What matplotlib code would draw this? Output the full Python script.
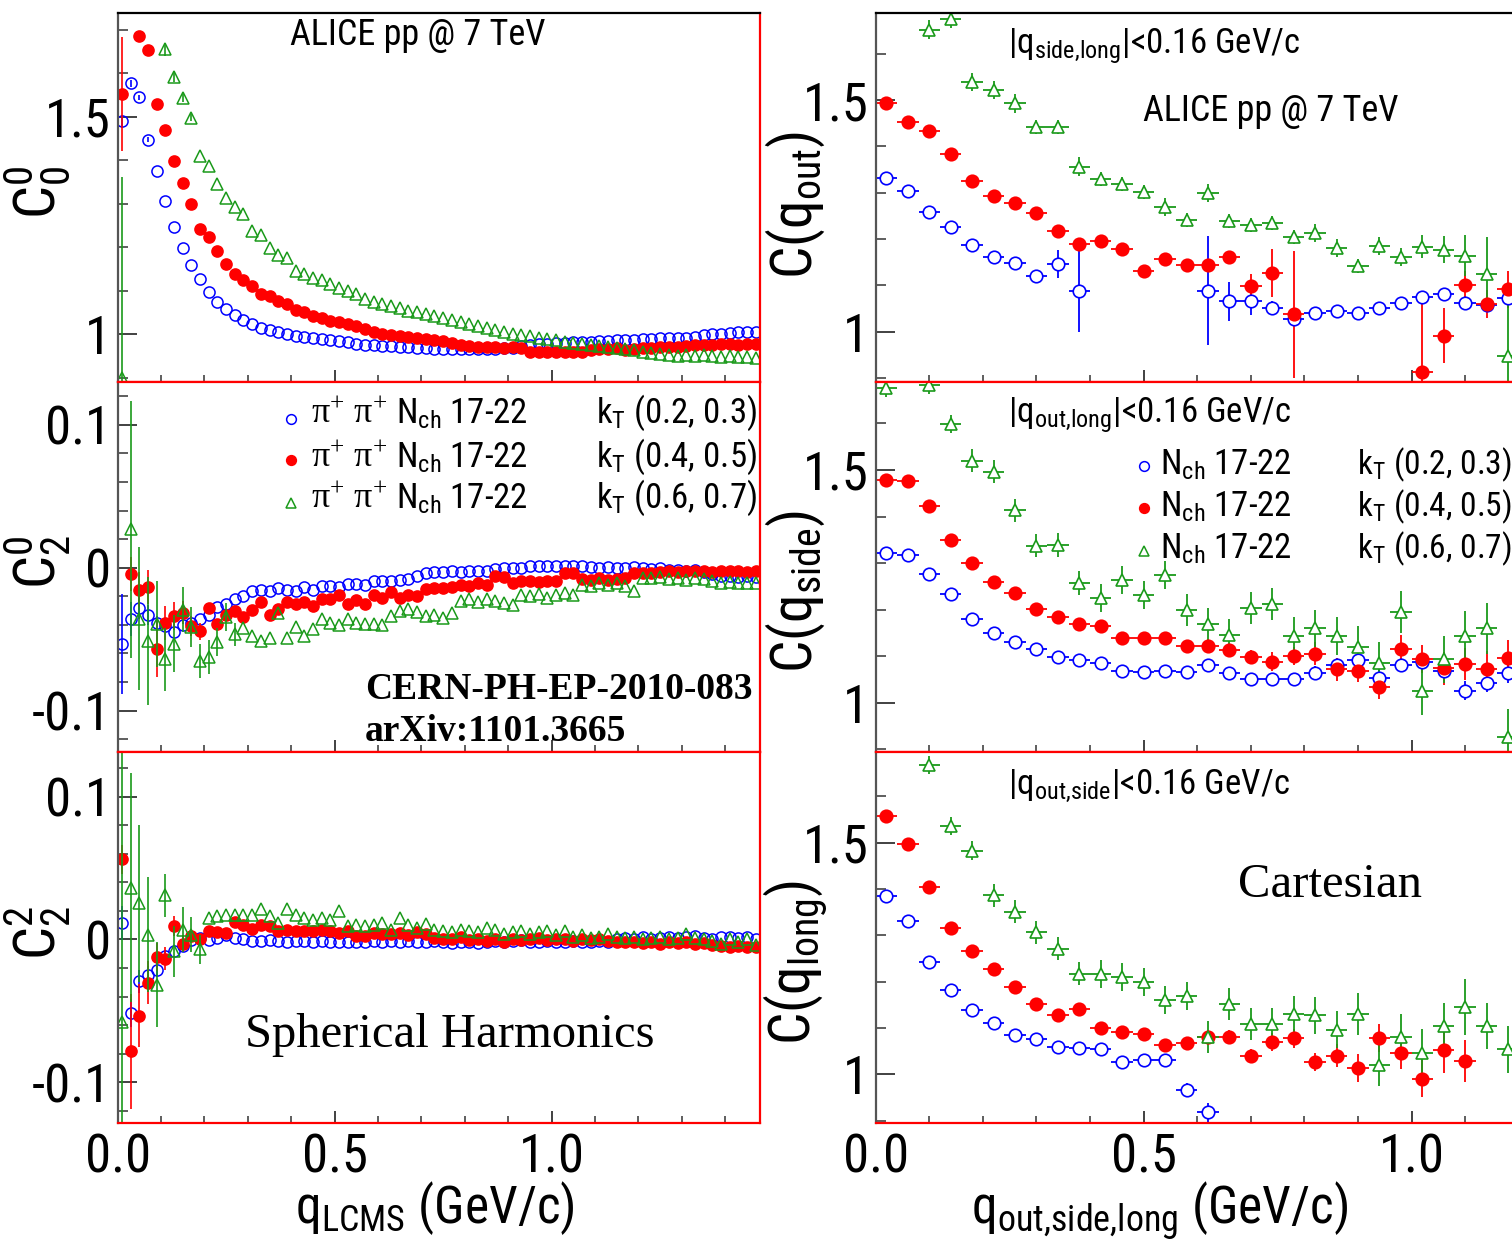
import numpy as np
import matplotlib
matplotlib.use('Agg')
import matplotlib.pyplot as plt
from matplotlib import font_manager
from matplotlib.ticker import MultipleLocator, FuncFormatter

nan = np.nan

# ---- spherical harmonics (left column), q_LCMS bins of 0.02 GeV/c ----
sh_bin = 0.02

c00_blue = [1.489, 1.577, 1.544, 1.447, 1.375, 1.306, 1.246, 1.197, 1.159, 1.126,
            1.097, 1.074, 1.057, 1.044, 1.033, 1.023, 1.015, 1.010, 1.005, 1.000,
            0.996, 0.993, 0.990, 0.989, 0.987, 0.984, 0.981, 0.978, 0.976, 0.974,
            0.973, 0.972, 0.971, 0.970, 0.968, 0.967, 0.966, 0.966, 0.965, 0.966,
            0.965, 0.966, 0.965, 0.966, 0.967, 0.968, 0.972, 0.975, 0.977, 0.978,
            0.979, 0.980, 0.981, 0.982, 0.983, 0.984, 0.985, 0.986, 0.986, 0.987,
            0.988, 0.989, 0.990, 0.991, 0.990, 0.992, 0.993, 0.998, 1.000, 1.000,
            1.003, 1.004, 1.005, 1.004]
c00_red = [1.552, nan, 1.684, 1.654, 1.529, 1.470, 1.399, 1.348, 1.300, 1.242,
           1.223, 1.190, 1.161, 1.138, 1.124, 1.111, 1.093, 1.088, 1.076, 1.069,
           1.056, 1.051, 1.042, 1.036, 1.031, 1.027, 1.023, 1.019, 1.011, 1.004,
           1.000, 0.998, 0.996, 0.993, 0.990, 0.988, 0.986, 0.984, 0.980, 0.975,
           0.972, 0.971, 0.970, 0.970, 0.969, 0.970, 0.968, 0.959, 0.958, 0.958,
           0.959, 0.958, 0.960, 0.959, 0.964, 0.966, 0.965, 0.967, 0.963, 0.966,
           0.968, 0.969, 0.970, 0.971, 0.970, 0.972, 0.974, 0.976, 0.975, 0.977,
           0.978, 0.976, 0.977, 0.978]
c00_green = [0.900, nan, nan, nan, nan, 1.655, 1.592, 1.543, 1.497, 1.409,
             1.386, 1.346, 1.312, 1.293, 1.275, 1.237, 1.227, 1.199, 1.183, 1.174,
             1.145, 1.138, 1.130, 1.125, 1.115, 1.107, 1.099, 1.092, 1.080, 1.073,
             1.070, 1.065, 1.059, 1.054, 1.050, 1.046, 1.041, 1.037, 1.033, 1.028,
             1.023, 1.018, 1.013, 1.009, 1.005, 1.001, 0.998, 0.995, 0.992, 0.989,
             0.986, 0.983, 0.980, 0.977, 0.975, 0.973, 0.971, 0.969, 0.966, 0.963,
             0.960, 0.957, 0.955, 0.953, 0.950, 0.951, 0.949, 0.951, 0.950, 0.948,
             0.949, 0.947, 0.948, 0.946]
c00_blue_err = [0.015, 0.008, 0.006, 0.005]
c00_red_err = [0.13, 0.0, 0.012, 0.008, 0.006]
c00_green_err = [0.46, 0.0, 0.0, 0.0, 0.0, 0.015, 0.012, 0.01, 0.008]

c20_blue = [-0.0537, -0.0358, -0.0281, -0.0328, -0.0386, -0.0409, -0.0451, -0.0404, -0.0386, -0.0362,
            -0.0328, -0.0277, -0.0251, -0.0218, -0.0195, -0.0165, -0.0158, -0.0165, -0.0142, -0.0158,
            -0.0165, -0.0135, -0.0153, -0.0125, -0.0130, -0.0135, -0.0111, -0.0111, -0.0118, -0.0095,
            -0.0091, -0.0095, -0.0085, -0.0080, -0.0060, -0.0040, -0.0030, -0.0030, -0.0025, -0.0030,
            -0.0020, -0.0025, -0.0020, -0.0010, 0.0000, -0.0005, 0.0000, 0.0010, 0.0010, 0.0015,
            0.0010, 0.0010, 0.0015, 0.0010, 0.0005, 0.0000, 0.0005, -0.0005, 0.0000, 0.0005,
            -0.0005, -0.0010, -0.0005, -0.0015, -0.0015, -0.0020, -0.0015, -0.0030, -0.0045, -0.0055,
            -0.0060, -0.0065, -0.0060, -0.0065]
c20_red = [nan, -0.0044, -0.0153, -0.0137, -0.0567, -0.0386, -0.0339, -0.0316, -0.0409, -0.0444,
           -0.0281, -0.0397, -0.0328, -0.0300, -0.0344, -0.0293, -0.0242, -0.0328, -0.0288, -0.0242,
           -0.0251, -0.0242, -0.0270, -0.0218, -0.0218, -0.0188, -0.0251, -0.0223, -0.0251, -0.0188,
           -0.0211, -0.0172, -0.0210, -0.0190, -0.0200, -0.0150, -0.0140, -0.0145, -0.0135, -0.0120,
           -0.0125, -0.0110, -0.0120, -0.0060, -0.0065, -0.0110, -0.0095, -0.0090, -0.0100, -0.0095,
           -0.0090, -0.0040, -0.0035, -0.0080, -0.0085, -0.0075, -0.0085, -0.0080, -0.0070, -0.0040,
           -0.0035, -0.0040, -0.0030, -0.0025, -0.0030, -0.0020, -0.0025, -0.0020, -0.0030, -0.0020,
           -0.0025, -0.0020, -0.0030, -0.0025]
c20_green = [nan, 0.0270, -0.0358, -0.0513, -0.0393, -0.0641, -0.0532, -0.0293, -0.0416, -0.0653,
             -0.0625, -0.0520, -0.0346, -0.0467, -0.0420, -0.0479, -0.0513, -0.0490, -0.0316, -0.0490,
             -0.0416, -0.0479, -0.0427, -0.0362, -0.0386, -0.0404, -0.0362, -0.0386, -0.0397, -0.0397,
             -0.0404, -0.0339, -0.0300, -0.0290, -0.0310, -0.0340, -0.0330, -0.0350, -0.0320, -0.0230,
             -0.0220, -0.0240, -0.0220, -0.0230, -0.0250, -0.0260, -0.0190, -0.0200, -0.0185, -0.0210,
             -0.0190, -0.0180, -0.0190, -0.0120, -0.0130, -0.0110, -0.0120, -0.0105, -0.0125, -0.0160,
             -0.0070, -0.0075, -0.0065, -0.0080, -0.0070, -0.0085, -0.0075, -0.0080, -0.0090, -0.0110,
             -0.0100, -0.0110, -0.0105, -0.0110]
c20_blue_err = [0.035, 0.012, 0.008, 0.007, 0.005, 0.004]
c20_red_err = [0.0, 0.012, 0.012, 0.012, 0.02, 0.012, 0.01, 0.008, 0.007, 0.006]
c20_green_err = [0.0, 0.09, 0.05, 0.045, 0.03, 0.022, 0.02, 0.016, 0.014, 0.012, 0.012, 0.01, 0.01, 0.008]

c22_blue = [0.0117, -0.0514, -0.0292, -0.0246, -0.0211, -0.0117, -0.0082, -0.0047, -0.0007, 0.0012,
            -0.0007, 0.0012, 0.0035, 0.0010, 0.0000, -0.0010, -0.0010, -0.0005, -0.0010, -0.0015,
            -0.0010, -0.0010, -0.0015, -0.0010, -0.0015, -0.0020, -0.0015, -0.0020, -0.0015, -0.0010,
            -0.0015, -0.0010, -0.0015, -0.0010, -0.0020, -0.0015, -0.0010, -0.0020, -0.0025, -0.0020,
            -0.0015, -0.0025, -0.0020, -0.0010, -0.0015, -0.0010, -0.0005, -0.0015, -0.0020, -0.0010,
            -0.0015, -0.0020, -0.0010, -0.0015, -0.0020, -0.0010, -0.0015, 0.0005, 0.0010, 0.0005,
            0.0015, 0.0000, 0.0010, 0.0020, 0.0010, 0.0015, 0.0025, 0.0010, 0.0005, 0.0015,
            0.0020, 0.0010, 0.0015, 0.0005]
c22_red = [0.0561, -0.0784, -0.0533, -0.0304, -0.0122, -0.0135, 0.0094, -0.0030, 0.0023, 0.0005,
           0.0058, 0.0051, 0.0047, 0.0122, 0.0105, 0.0075, 0.0105, 0.0094, 0.0058, 0.0070,
           0.0058, 0.0058, 0.0058, 0.0070, 0.0058, 0.0047, 0.0058, 0.0023, 0.0023, 0.0047,
           0.0040, 0.0040, 0.0045, 0.0030, 0.0050, 0.0040, 0.0010, 0.0005, 0.0000, 0.0015,
           -0.0005, 0.0005, -0.0010, 0.0000, -0.0015, 0.0005, -0.0005, 0.0000, 0.0010, -0.0005,
           0.0005, 0.0000, -0.0010, 0.0005, -0.0005, 0.0000, -0.0010, -0.0015, -0.0020, -0.0015,
           -0.0025, -0.0020, -0.0030, -0.0015, -0.0025, -0.0020, -0.0030, -0.0025, -0.0040, -0.0045,
           -0.0050, -0.0045, -0.0050, -0.0055]
c22_green = [-0.0580, 0.0363, 0.0253, 0.0035, -0.0316, 0.0311, -0.0082, 0.0070, 0.0035, -0.0070,
             0.0152, 0.0164, 0.0175, 0.0175, 0.0175, 0.0175, 0.0211, 0.0168, 0.0117, 0.0211,
             0.0175, 0.0152, 0.0140, 0.0152, 0.0140, 0.0199, 0.0094, 0.0105, 0.0094, 0.0105,
             0.0117, 0.0070, 0.0150, 0.0100, 0.0080, 0.0110, 0.0070, 0.0060, 0.0050, 0.0070,
             0.0060, 0.0050, 0.0080, 0.0070, 0.0040, 0.0050, 0.0060, 0.0040, 0.0050, 0.0060,
             0.0030, 0.0060, 0.0020, 0.0030, 0.0010, 0.0020, 0.0040, 0.0020, 0.0010, 0.0020,
             0.0000, 0.0010, 0.0020, 0.0000, 0.0010, 0.0040, 0.0010, 0.0000, -0.0010, -0.0030,
             0.0000, -0.0020, 0.0000, -0.0040]
c22_blue_err = [0.012, 0.01, 0.008, 0.006, 0.005, 0.004]
c22_red_err = [0.01, 0.04, 0.022, 0.015, 0.01, 0.008, 0.007, 0.006]
c22_green_err = [0.2, 0.08, 0.055, 0.04, 0.03, 0.015, 0.018, 0.016, 0.012, 0.01]

# ---- cartesian (right column), bins of 0.04 GeV/c ----
cart_bin = 0.04

cout_blue = [1.331, 1.304, 1.258, 1.225, 1.186, 1.162, 1.148, 1.121, 1.146, 1.088,
             nan, nan, nan, nan, nan, 1.088, 1.065, 1.065, 1.051, 1.027,
             1.040, 1.044, 1.040, 1.051, 1.062, 1.075, 1.080, 1.062, 1.058, 1.073]
cout_red = [1.493, 1.452, 1.433, 1.384, 1.325, 1.293, 1.277, 1.256, 1.218, 1.189,
            1.195, 1.178, 1.131, 1.157, 1.144, 1.143, 1.160, 1.099, 1.126, 1.037,
            nan, nan, nan, nan, nan, 0.912, 0.991, 1.101, 1.060, 1.091]
cout_green = [nan, nan, 1.652, 1.676, 1.539, 1.522, 1.493, 1.441, 1.441, 1.356,
              1.330, 1.318, 1.302, 1.269, 1.241, 1.299, 1.238, 1.231, 1.234, 1.205,
              1.213, 1.180, 1.141, 1.185, 1.161, 1.183, 1.177, 1.164, 1.125, 0.948]
cout_blue_err = [0.008, 0.008, 0.008, 0.008, 0.008, 0.008, 0.008, 0.008, 0.03, 0.088,
                 0, 0, 0, 0, 0, 0.118, 0.043, 0.03, 0.015, 0.015,
                 0.01, 0.01, 0.01, 0.01, 0.01, 0.012, 0.012, 0.015, 0.015, 0.02]
cout_red_err = [0.008, 0.008, 0.008, 0.008, 0.008, 0.008, 0.01, 0.01, 0.01, 0.01,
                0.01, 0.01, 0.012, 0.012, 0.012, 0.012, 0.015, 0.025, 0.052, 0.137,
                0, 0, 0, 0, 0, 0.164, 0.06, 0.03, 0.03, 0.04]
cout_green_err = [0, 0, 0.02, 0.02, 0.02, 0.02, 0.02, 0.015, 0.015, 0.02,
                  0.015, 0.015, 0.015, 0.02, 0.015, 0.02, 0.015, 0.015, 0.015, 0.015,
                  0.02, 0.02, 0.015, 0.02, 0.02, 0.025, 0.03, 0.045, 0.08, 0.12]

cside_blue = [1.322, 1.317, 1.277, 1.233, 1.179, 1.149, 1.131, 1.115, 1.098, 1.092,
              1.085, 1.068, 1.065, 1.068, 1.065, 1.081, 1.063, 1.050, 1.050, 1.050,
              1.064, 1.081, 1.092, 1.052, 1.081, 1.088, 1.067, 1.026, 1.042, 1.063]
cside_red = [1.479, 1.476, 1.423, 1.350, 1.300, 1.260, 1.235, 1.201, 1.183, 1.169,
             1.165, 1.140, 1.140, 1.140, 1.122, 1.122, 1.113, 1.098, 1.088, 1.100,
             1.105, 1.072, 1.069, 1.033, 1.115, 1.093, 1.074, 1.083, 1.072, 1.095]
cside_green = [1.676, nan, 1.683, 1.599, 1.520, 1.496, 1.413, 1.337, 1.339, 1.257,
               1.224, 1.264, 1.231, 1.274, 1.199, 1.168, 1.145, 1.203, 1.212, 1.143,
               1.160, 1.143, 1.120, 1.085, 1.194, 1.024, 1.093, 1.143, 1.160, 0.927]
cside_blue_err = [0.008, 0.008, 0.008, 0.008, 0.008, 0.008, 0.008, 0.008, 0.008, 0.008,
                  0.01, 0.01, 0.01, 0.01, 0.012, 0.012, 0.012, 0.012, 0.012, 0.012,
                  0.015, 0.015, 0.015, 0.02, 0.015, 0.015, 0.02, 0.02, 0.02, 0.02]
cside_red_err = [0.008, 0.008, 0.008, 0.008, 0.008, 0.008, 0.01, 0.01, 0.01, 0.01,
                 0.01, 0.01, 0.01, 0.012, 0.012, 0.015, 0.015, 0.015, 0.02, 0.02,
                 0.025, 0.025, 0.025, 0.025, 0.03, 0.03, 0.035, 0.035, 0.04, 0.04]
cside_green_err = [0.02, 0, 0.02, 0.02, 0.025, 0.025, 0.025, 0.025, 0.025, 0.025,
                   0.03, 0.03, 0.03, 0.03, 0.035, 0.035, 0.035, 0.035, 0.035, 0.04,
                   0.04, 0.04, 0.045, 0.045, 0.045, 0.05, 0.05, 0.055, 0.055, 0.06]

clong_blue = [1.386, 1.332, 1.243, 1.182, 1.139, 1.111, 1.085, 1.076, 1.060, 1.057,
              1.054, 1.027, 1.031, 1.030, 0.966, 0.918, nan, nan, nan, nan,
              nan, nan, nan, nan, nan, nan, nan, nan, nan, nan]
clong_red = [1.558, 1.497, 1.404, 1.317, 1.266, 1.227, 1.189, 1.153, 1.128, 1.141,
             1.101, 1.092, 1.087, 1.063, 1.068, 1.080, 1.080, 1.040, 1.070, 1.078,
             1.027, 1.040, 1.013, 1.078, 1.047, 0.991, 1.052, 1.029, nan, nan]
clong_green = [nan, nan, 1.668, 1.536, 1.483, 1.387, 1.351, 1.307, 1.271, 1.217,
               1.217, 1.211, 1.200, 1.160, 1.169, 1.081, 1.152, 1.109, 1.109, 1.130,
               1.128, 1.096, 1.131, 1.020, 1.080, 1.047, 1.104, 1.145, 1.104, 1.054]
clong_blue_err = [0.008, 0.008, 0.008, 0.008, 0.008, 0.008, 0.008, 0.008, 0.008, 0.008,
                  0.008, 0.008, 0.01, 0.012, 0.015, 0.02, 0, 0, 0, 0,
                  0, 0, 0, 0, 0, 0, 0, 0, 0, 0]
clong_red_err = [0.008, 0.008, 0.008, 0.008, 0.008, 0.008, 0.01, 0.01, 0.01, 0.01,
                 0.01, 0.01, 0.012, 0.012, 0.012, 0.015, 0.015, 0.015, 0.02, 0.02,
                 0.02, 0.025, 0.03, 0.03, 0.035, 0.04, 0.05, 0.045, 0, 0]
clong_green_err = [0, 0, 0.02, 0.02, 0.02, 0.025, 0.025, 0.025, 0.025, 0.025,
                   0.03, 0.03, 0.03, 0.03, 0.03, 0.035, 0.035, 0.035, 0.035, 0.04,
                   0.04, 0.04, 0.045, 0.045, 0.05, 0.05, 0.05, 0.06, 0.05, 0.05]

legend_nch = ['N$_{ch}$ 17-22'] * 3
legend_kt = ['k$_{T}$ (0.2, 0.3)', 'k$_{T}$ (0.4, 0.5)', 'k$_{T}$ (0.6, 0.7)']

# ---- style ----
BLUE, RED, GREEN = '#0000ff', '#ff0000', '#1a9a1a'
styles = [('o', BLUE, 'none'), ('o', RED, RED), ('^', GREEN, 'none')]

# the ROOT plot uses a narrow Helvetica, look for a condensed sans face
narrow = None
for pref in ['Liberation Sans Narrow', 'Roboto Condensed', 'DejaVu Sans', 'Noto Sans',
             'Open Sans']:
    for f in font_manager.fontManager.ttflist:
        if f.style != 'normal' or f.weight not in (400, 'normal', 'regular', 'book'):
            continue
        cond = ('Narrow' in f.name or 'Condensed' in f.name
                or f.stretch in ('condensed', 'semi-condensed'))
        if pref in f.name and cond:
            narrow = f
            break
    if narrow:
        break
if narrow:
    SANS = narrow.name
    plt.rcParams['font.stretch'] = narrow.stretch
else:
    SANS = 'Liberation Sans'
SERIF = 'Liberation Serif'
plt.rcParams['font.family'] = [SANS, 'DejaVu Sans']
plt.rcParams['mathtext.default'] = 'regular'
plt.rcParams['axes.unicode_minus'] = False

W, H = 1512, 1248
fig = plt.figure(figsize=(W / 100, H / 100), dpi=100)


def fx(p):
    return p / W


def fy(p):
    return 1 - p / H


def make_ax(x0, x1, y0, y1):
    return fig.add_axes([fx(x0), fy(y1), (x1 - x0) / W, (y1 - y0) / H])


def style_ax(ax, xlim, ylim, ymaj, ymin, xlabels, top_black):
    ax.set_xlim(*xlim)
    ax.set_ylim(*ylim)
    ax.xaxis.set_major_locator(MultipleLocator(0.5))
    ax.xaxis.set_minor_locator(MultipleLocator(0.1))
    ax.yaxis.set_major_locator(MultipleLocator(ymaj))
    ax.yaxis.set_minor_locator(MultipleLocator(ymin))
    ax.yaxis.set_major_formatter(FuncFormatter(lambda v, p: '%g' % round(v, 3)))
    ax.xaxis.set_major_formatter(FuncFormatter(lambda v, p: '%.1f' % v))
    ax.tick_params(which='both', direction='in', color='#333333', labelcolor='black')
    ax.tick_params(axis='y', which='major', length=14, width=1.3, labelsize=38, pad=5)
    ax.tick_params(axis='y', which='minor', length=7, width=1.1)
    ax.tick_params(axis='x', which='major', length=9, width=1.3, labelsize=38, pad=7,
                   labelbottom=xlabels)
    ax.tick_params(axis='x', which='minor', length=5, width=1.1)
    ax.spines['left'].set_color('#555555')
    ax.spines['bottom'].set_color('red')
    ax.spines['right'].set_color('red')
    ax.spines['top'].set_color('black' if top_black else 'red')
    for s in ax.spines.values():
        s.set_linewidth(1.6)


def draw_sh(ax, series, errs):
    x = sh_bin * (np.arange(len(series[0])) + 0.5)
    for y, e, (mk, c, mfc) in zip(series, errs, styles):
        n = len(e)
        ax.errorbar(x[:n], y[:n], yerr=e, fmt='none', ecolor=c, elinewidth=1.2)
        ax.plot(x, y, ls='none', marker=mk, ms=8, mec=c, mfc=mfc, mew=1.1)


def draw_cart(ax, series, errs):
    x = cart_bin * (np.arange(len(series[0])) + 0.5)
    for y, e, (mk, c, mfc) in zip(series, errs, styles):
        ax.errorbar(x, y, xerr=cart_bin / 2, yerr=e, fmt=mk, ms=9, mec=c,
                    mfc='white' if mfc == 'none' else mfc, mew=1.2,
                    ecolor=c, elinewidth=1.3, capsize=0)


LX = (117.6, 760)
RX = (875.7, 1515)
ROWS = [(13, 382), (382, 752), (752, 1123)]

# left column
ax = make_ax(*LX, *ROWS[0])
draw_sh(ax, [c00_blue, c00_red, c00_green], [c00_blue_err, c00_red_err, c00_green_err])
style_ax(ax, (0, 1.48), (0.890, 1.738), 0.5, 0.1, False, True)

ax = make_ax(*LX, *ROWS[1])
draw_sh(ax, [c20_blue, c20_red, c20_green], [c20_blue_err, c20_red_err, c20_green_err])
style_ax(ax, (0, 1.48), (-0.129, 0.130), 0.1, 0.02, False, False)

ax = make_ax(*LX, *ROWS[2])
draw_sh(ax, [c22_blue, c22_red, c22_green], [c22_blue_err, c22_red_err, c22_green_err])
style_ax(ax, (0, 1.48), (-0.1285, 0.1313), 0.1, 0.02, True, False)

# right column
ax = make_ax(*RX, *ROWS[0])
draw_cart(ax, [cout_blue, cout_red, cout_green], [cout_blue_err, cout_red_err, cout_green_err])
style_ax(ax, (0, 1.193), (0.891, 1.688), 0.5, 0.1, False, True)

ax = make_ax(*RX, *ROWS[1])
draw_cart(ax, [cside_blue, cside_red, cside_green], [cside_blue_err, cside_red_err, cside_green_err])
style_ax(ax, (0, 1.193), (0.894, 1.689), 0.5, 0.1, False, False)

ax = make_ax(*RX, *ROWS[2])
draw_cart(ax, [clong_blue, clong_red, clong_green], [clong_blue_err, clong_red_err, clong_green_err])
style_ax(ax, (0, 1.193), (0.895, 1.696), 0.5, 0.1, True, False)

# axis titles
for yc, lab in zip([192, 562, 933], ['C$^{0}_{0}$', 'C$^{0}_{2}$', 'C$^{2}_{2}$']):
    fig.text(fx(38), fy(yc), lab, rotation=90, fontsize=42, ha='center', va='center')
for yc, lab in zip([205, 592, 962], ['C(q$_{out}$)', 'C(q$_{side}$)', 'C(q$_{long}$)']):
    fig.text(fx(795), fy(yc), lab, rotation=90, fontsize=41, ha='center', va='center')
fig.text(fx(435), fy(1223), 'q$_{LCMS}$ (GeV/c)', fontsize=37, ha='center', va='baseline')
fig.text(fx(1160), fy(1223), 'q$_{out{,}side{,}long}$ (GeV/c)', fontsize=37, ha='center',
         va='baseline')

# annotations
fig.text(fx(290), fy(45), 'ALICE pp @ 7 TeV', fontsize=26, va='baseline')
fig.text(fx(1143), fy(121), 'ALICE pp @ 7 TeV', fontsize=26, va='baseline')
fig.text(fx(1008), fy(53), '|q$_{side{,}long}$|<0.16 GeV/c', fontsize=25, va='baseline')
fig.text(fx(1008), fy(422), '|q$_{out{,}long}$|<0.16 GeV/c', fontsize=25, va='baseline')
fig.text(fx(1008), fy(794), '|q$_{out{,}side}$|<0.16 GeV/c', fontsize=25, va='baseline')
fig.text(fx(365), fy(699), 'CERN-PH-EP-2010-083', fontsize=27, family=SERIF,
         weight='bold', va='baseline')
fig.text(fx(365), fy(741), 'arXiv:1101.3665', fontsize=27, family=SERIF,
         weight='bold', va='baseline')
fig.text(fx(245), fy(1047), 'Spherical Harmonics', fontsize=35, family=SERIF, va='baseline')
fig.text(fx(1238), fy(897), 'Cartesian', fontsize=35, family=SERIF, va='baseline')

# legends
for i, (mk, c, mfc) in enumerate(styles):
    yb = [423, 467, 508][i]
    ym = [419, 460, 503][i]
    fig.lines.append(plt.Line2D([fx(291)], [fy(ym)], transform=fig.transFigure, ls='none',
                                marker=mk, ms=7, mec=c, mfc=mfc, mew=1.1))
    fig.text(fx(311), fy(yb), '\u03c0$^{+}$ \u03c0$^{+}$', fontsize=26,
             family=[SERIF, 'DejaVu Serif'], va='baseline')
    fig.text(fx(396), fy(yb), legend_nch[i], fontsize=25, va='baseline')
    fig.text(fx(596), fy(yb), legend_kt[i], fontsize=25, va='baseline')

    yb = [474, 516, 558][i]
    ym = [466, 508, 551][i]
    fig.lines.append(plt.Line2D([fx(1144)], [fy(ym)], transform=fig.transFigure, ls='none',
                                marker=mk, ms=7, mec=c, mfc=mfc, mew=1.1))
    fig.text(fx(1160), fy(yb), legend_nch[i], fontsize=25, va='baseline')
    fig.text(fx(1357), fy(yb), legend_kt[i], fontsize=24, va='baseline')

fig.savefig('out.png', dpi=100)
